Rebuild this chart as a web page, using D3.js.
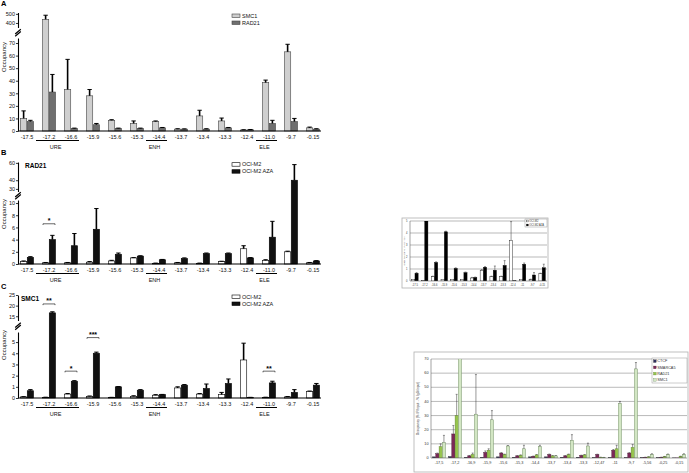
<!DOCTYPE html>
<html>
<head>
<meta charset="utf-8">
<script src="https://cdn.jsdelivr.net/npm/d3@7"></script>
<style>
  body { margin: 0; background: #fff; }
  svg { display: block; font-family: "Liberation Sans", Arial, sans-serif; }
</style>
</head>
<body>
<svg id="fig" width="689" height="473"></svg>
<script>
// ---- data: panels A-C (positions relative to TSS, kb)
const catsMain = ['-17.5', '-17.2', '-16.6', '-15.9', '-15.6', '-15.3', '-14.4', '-13.7', '-13.4', '-13.3', '-12.4', '-11.0', '-9.7', '-0.15']
const regions = [
  { name: 'URE', from: '-17.2', to: '-16.6' },
  { name: 'ENH', from: '-14.4', to: '-14.4' },
  { name: 'ELE', from: '-11.0', to: '-11.0' },
]

// A: SMC1 / RAD21
const aSmc1 = [10, 440, 33, 28, 8.5, 6, 7.5, 1.5, 12, 8, 0.8, 38.5, 63, 2.5]
const aSmc1Err = [6, 45, 24, 5, 0.5, 2, 0.5, 0.3, 4.5, 2.3, 0.2, 2, 6, 0.6]
const aRad21 = [7.5, 31, 2, 5, 2, 2, 2.5, 1.5, 1.5, 2.5, 1, 6, 7.5, 1.5]
const aRad21Err = [1, 14, 0.3, 1, 0.3, 0.3, 0.3, 0.2, 0.3, 0.3, 0.2, 2.5, 2.5, 0.3]

// B: RAD21 in OCI-M2 / OCI-M2 AZA
const bM2 = [0.4, 0.2, 0.2, 0.3, 0.5, 1.0, 0.1, 0.2, 0.1, 0.4, 2.5, 0.6, 2.0, 0.2]
const bM2Err = [0.1, 0.05, 0.05, 0.1, 0.1, 0.05, 0.05, 0.05, 0.05, 0.05, 0.5, 0.1, 0.1, 0.05]
const bAza = [1.1, 4.0, 3.0, 5.7, 1.6, 1.3, 0.7, 0.9, 1.7, 1.7, 1.0, 4.4, 40, 0.5]
const bAzaErr = [0.1, 0.7, 2.0, 3.4, 0.2, 0.05, 0.05, 0.1, 0.1, 0.1, 0.05, 2.6, 18, 0.05]

// C: SMC1 in OCI-M2 / OCI-M2 AZA
const cM2 = [0.1, 0.05, 0.35, 0.15, 0.05, 0.15, 0.25, 0.9, 0.35, 0.3, 3.4, 0.05, 0.1, 0.6]
const cM2Err = [0.02, 0.02, 0.05, 0.03, 0.01, 0.05, 0.05, 0.1, 0.05, 0.2, 1.5, 0.02, 0.03, 0.02]
const cAza = [0.65, 16.6, 1.5, 4.0, 1.0, 0.7, 0.3, 1.15, 0.85, 1.3, 0.05, 1.35, 0.5, 1.15]
const cAzaErr = [0.1, 0.5, 0.05, 0.1, 0.02, 0.05, 0.02, 0.05, 0.4, 0.4, 0.01, 0.15, 0.25, 0.15]

const bSig = [{ cat: '-17.2', level: 6.6, text: '*' }]
const cSig = [
  { cat: '-17.2', level: 20.8, text: '**' },
  { cat: '-16.6', level: 2.4, text: '*' },
  { cat: '-15.9', level: 5.4, text: '***' },
  { cat: '-11.0', level: 2.4, text: '**' },
]

// ---- data: small chart, top right
const trCats = ['-17.5', '-17.2', '-16.6', '-15.9', '-15.6', '-15.3', '-14.4', '-13.7', '-13.4', '-13.3', '-12.4', '-11', '-9.7', '-0.15']
const trWhite = [0.1, 0.05, 0.35, 0.15, 0.15, 0.1, 0.25, 0.9, 0.35, 0.35, 3.4, 0.1, 0.1, 0.6]
const trWhiteErr = [0, 0, 0.05, 0, 0, 0, 0.05, 0.05, 0.05, 0.05, 1.55, 0, 0.05, 0.05]
const trBlack = [0.65, 5, 1.55, 4.1, 1.05, 0.7, 0.3, 1.15, 0.9, 1.3, 0.02, 1.4, 0.5, 1.1]
const trBlackErr = [0.05, 0, 0.05, 0.05, 0.05, 0.05, 0.03, 0.05, 0.35, 0.4, 0, 0.1, 0.2, 0.3]
const trTicks = [0, 1, 2, 3, 4, 5]

// ---- data: four-factor chart, bottom right
const brCats = ['-17,5', '-17,2', '-16,9', '-15,9', '-15,6', '-15,3', '-14,4', '-13,7', '-13,4', '-13,3', '-12,47', '-11', '-9,7', '-5,56', '-0,25', '-0,15']
const brCtcf = [0.8, 1, 0.5, 0.5, 0.8, 0.5, 0.8, 0.8, 0.5, 0.5, 0.3, 0.3, 0.3, 0.3, 0.3, 0.1]
const brSmarca5 = [3, 17, 1.5, 4, 3.5, 1.5, 1.2, 2.5, 1.5, 1.8, 2.5, 5.5, 3.5, 0.5, 0.5, 0.1]
const brSmarca5Err = [0.5, 6, 0.3, 1, 0.3, 0.2, 0.2, 0.3, 0.2, 0.2, 0.2, 0.5, 0.3, 0.1, 0.1, 0]
const brRad21 = [8, 30, 2.5, 5.5, 2.5, 2, 2.2, 1.5, 2.5, 2.2, 0.5, 6.5, 7.5, 0.8, 1, 1.2]
const brRad21Err = [2, 15, 1, 1, 0.2, 0.2, 0.2, 0.2, 0.3, 0.2, 0.1, 2.5, 2, 0.1, 0.1, 0.1]
const brSmc1 = [11, 440, 31, 27, 8.5, 6.5, 8, 1.5, 12.5, 8.5, 0.3, 38.5, 63, 2.5, 2.5, 2.5]
const brSmc1Err = [5, 45, 28, 6.5, 0.3, 2.5, 1, 0.2, 4, 2, 0.1, 1.5, 4.5, 0.5, 0.3, 0.5]
const brTicks = [0, 10, 20, 30, 40, 50, 60, 70]

const svg = d3.select('#fig')
const ink = '#111'

// GraphPad-style panel with a broken y axis
function brokenPanel (p) {
  const g = svg.append('g')
  const axisX = 18
  const x = d3.scaleBand().domain(catsMain).range([16, 324])
  const sub = d3.scaleBand().domain(d3.range(p.series.length)).range([-6.5, 6.5]).paddingInner(0.08)
  const y = d3.scaleLinear().domain(p.domain).range(p.range).clamp(true)
  const yLow = d3.scaleLinear().domain(p.domain.slice(0, 2)).range(p.range.slice(0, 2))
  const yUp = d3.scaleLinear().domain(p.domain.slice(2)).range(p.range.slice(2))
  const y0 = p.range[0]
  const cx = (c) => x(c) + x.bandwidth() / 2

  p.series.forEach((s, si) => {
    const bars = g.append('g')
    bars.selectAll('rect')
      .data(s.values)
      .join('rect')
      .attr('x', (d, i) => cx(catsMain[i]) + sub(si))
      .attr('y', (d) => y(d))
      .attr('width', sub.bandwidth())
      .attr('height', (d) => y0 - y(d))
      .attr('fill', s.fill)
      .attr('stroke', s.stroke)
      .attr('stroke-width', 0.6)

    const err = g.append('g').attr('stroke', '#000')
    s.values.forEach((v, i) => {
      const e = s.err[i]
      if (!e) return
      const mx = cx(catsMain[i]) + sub(si) + sub.bandwidth() / 2
      err.append('line')
        .attr('x1', mx).attr('x2', mx)
        .attr('y1', y(v)).attr('y2', y(v + e))
        .attr('stroke-width', 1.6)
      err.append('line')
        .attr('x1', mx - sub.bandwidth() * 0.35).attr('x2', mx + sub.bandwidth() * 0.35)
        .attr('y1', y(v + e)).attr('y2', y(v + e))
        .attr('stroke-width', 1)
    })
  })

  // y axis segments
  const styleAxis = (sel) => {
    sel.select('.domain').attr('stroke-width', 1.1)
    sel.selectAll('.tick line').attr('stroke-width', 0.8)
    sel.selectAll('.tick text').attr('font-size', 5.5).attr('fill', ink).attr('font-family', '"Liberation Sans", Arial, sans-serif')
  }
  const fmt = d3.format('d')
  g.append('g').attr('transform', `translate(${axisX},0)`)
    .call(d3.axisLeft(yLow).tickValues(p.lowTicks).tickFormat(fmt).tickSize(2).tickSizeOuter(0).tickPadding(1))
    .call(styleAxis)
  g.append('g').attr('transform', `translate(${axisX},0)`)
    .call(d3.axisLeft(yUp).tickValues(p.upTicks).tickFormat(fmt).tickSize(2).tickSizeOuter(0).tickPadding(1))
    .call(styleAxis)

  // break marks
  const by = (p.range[1] + p.range[2]) / 2
  ;[-1.1, 1.1].forEach((o) => {
    g.append('line')
      .attr('x1', axisX - 2.8).attr('y1', by + o + 2.4)
      .attr('x2', axisX + 2.8).attr('y2', by + o - 2.4)
      .attr('stroke', '#000').attr('stroke-width', 1.2)
  })

  // x axis
  g.append('line')
    .attr('x1', axisX).attr('x2', 321)
    .attr('y1', y0).attr('y2', y0)
    .attr('stroke', '#000').attr('stroke-width', 1.1)
  g.append('g').selectAll('text')
    .data(catsMain)
    .join('text')
    .attr('x', cx)
    .attr('y', y0 + 7.5)
    .attr('text-anchor', 'middle')
    .attr('font-size', 5.5)
    .attr('fill', ink)
    .text((d) => d)

  regions.forEach((r) => {
    const x1 = x(r.from) - 2
    const x2 = x(r.to) + x.bandwidth() - 3
    g.append('line')
      .attr('x1', x1).attr('x2', x2)
      .attr('y1', y0 + 9.5).attr('y2', y0 + 9.5)
      .attr('stroke', '#000').attr('stroke-width', 1)
    g.append('text')
      .attr('x', (x1 + x2) / 2 - 2)
      .attr('y', y0 + 17.5)
      .attr('text-anchor', 'middle')
      .attr('font-size', 5.5)
      .attr('fill', ink)
      .text(r.name)
  })

  // significance brackets
  ;(p.sig || []).forEach((s) => {
    const c = cx(s.cat)
    const yy = y(s.level)
    g.append('path')
      .attr('d', `M${c - 6},${yy + 1.2}V${yy}H${c + 6}V${yy + 1.2}`)
      .attr('fill', 'none').attr('stroke', '#000').attr('stroke-width', 0.6)
    g.append('text')
      .attr('x', c).attr('y', yy - 0.5)
      .attr('text-anchor', 'middle')
      .attr('font-size', 7).attr('font-weight', 'bold')
      .text(s.text)
  })

  // panel letter, title, y label
  g.append('text').attr('x', 1).attr('y', p.letterY)
    .attr('font-size', 7.5).attr('font-weight', 'bold').text(p.letter)
  if (p.title) {
    g.append('text').attr('x', p.titleX).attr('y', p.titleY)
      .attr('font-size', 6.5).attr('font-weight', 'bold').text(p.title)
  }
  g.append('text')
    .attr('transform', `translate(6,${p.labelY}) rotate(-90)`)
    .attr('text-anchor', 'middle')
    .attr('font-size', 6)
    .attr('fill', ink)
    .text('Occupancy')

  // legend
  p.series.forEach((s, si) => {
    const ly = p.legendY + si * 7
    g.append('rect').attr('x', 232).attr('y', ly).attr('width', 8).attr('height', 3.5)
      .attr('fill', s.fill).attr('stroke', s.stroke).attr('stroke-width', 0.6)
    g.append('text').attr('x', 242).attr('y', ly + 3.5)
      .attr('font-size', 5.5).attr('fill', ink).text(s.name)
  })
}

brokenPanel({
  letter: 'A', letterY: 6,
  domain: [0, 74, 350, 515], range: [131, 38, 27.5, 12.5],
  lowTicks: [0, 10, 20, 30, 40, 50, 60, 70], upTicks: [400, 500],
  labelY: 57, legendY: 14,
  series: [
    { name: 'SMC1', values: aSmc1, err: aSmc1Err, fill: '#cfcfcf', stroke: '#444' },
    { name: 'RAD21', values: aRad21, err: aRad21Err, fill: '#6f6f6f', stroke: '#444' },
  ],
})

brokenPanel({
  letter: 'B', letterY: 155, title: 'RAD21', titleX: 25, titleY: 168,
  domain: [0, 10.5, 27, 61], range: [264, 200, 191.5, 162],
  lowTicks: [0, 2, 4, 6, 8, 10], upTicks: [30, 40, 60],
  labelY: 214, legendY: 162.7, sig: bSig,
  series: [
    { name: 'OCI-M2', values: bM2, err: bM2Err, fill: '#fff', stroke: '#000' },
    { name: 'OCI-M2 AZA', values: bAza, err: bAzaErr, fill: '#111', stroke: '#000' },
  ],
})

brokenPanel({
  letter: 'C', letterY: 289, title: 'SMC1', titleX: 21, titleY: 301,
  domain: [0, 5.9, 13, 25], range: [398, 332, 320.5, 295],
  lowTicks: [0, 1, 2, 3, 4, 5], upTicks: [15, 20, 25],
  labelY: 345, legendY: 295, sig: cSig,
  series: [
    { name: 'OCI-M2', values: cM2, err: cM2Err, fill: '#fff', stroke: '#000' },
    { name: 'OCI-M2 AZA', values: cAza, err: cAzaErr, fill: '#111', stroke: '#000' },
  ],
})

// Excel-style chart with frame and horizontal gridlines
function excelChart (p) {
  const g = svg.append('g')
  g.append('rect')
    .attr('x', p.box[0]).attr('y', p.box[1])
    .attr('width', p.box[2]).attr('height', p.box[3])
    .attr('fill', '#fff').attr('stroke', '#b0b0b0').attr('stroke-width', 0.8)

  const x = d3.scaleBand().domain(p.cats).range(p.xRange)
  const y = d3.scaleLinear().domain([0, d3.max(p.ticks)]).range(p.yRange)
  const sub = d3.scaleBand().domain(d3.range(p.series.length))
    .range([-p.groupW / 2, p.groupW / 2]).paddingInner(0.05)

  g.append('g').selectAll('line')
    .data(p.ticks.slice(1))
    .join('line')
    .attr('x1', p.xRange[0]).attr('x2', p.xRange[1])
    .attr('y1', y).attr('y2', y)
    .attr('stroke', '#8c8c8c').attr('stroke-width', 0.6)

  const clipId = `clip-${p.id}`
  g.append('clipPath').attr('id', clipId)
    .append('rect')
    .attr('x', p.xRange[0]).attr('y', p.yRange[1])
    .attr('width', p.xRange[1] - p.xRange[0]).attr('height', p.yRange[0] - p.yRange[1])

  const plot = g.append('g').attr('clip-path', `url(#${clipId})`)
  p.series.forEach((s, si) => {
    const bx = (i) => x(p.cats[i]) + x.bandwidth() / 2 + sub(si)
    plot.append('g').selectAll('rect')
      .data(s.values)
      .join('rect')
      .attr('x', (d, i) => bx(i))
      .attr('y', (d) => y(d))
      .attr('width', sub.bandwidth())
      .attr('height', (d) => p.yRange[0] - y(d))
      .attr('fill', s.fill)
      .attr('stroke', s.stroke)
      .attr('stroke-width', 0.4)
    if (s.err) {
      const err = plot.append('g').attr('stroke', '#333').attr('stroke-width', 0.5)
      s.values.forEach((v, i) => {
        if (!s.err[i]) return
        const mx = bx(i) + sub.bandwidth() / 2
        err.append('line').attr('x1', mx).attr('x2', mx).attr('y1', y(v)).attr('y2', y(v + s.err[i]))
        err.append('line').attr('x1', mx - 1).attr('x2', mx + 1).attr('y1', y(v + s.err[i])).attr('y2', y(v + s.err[i]))
      })
    }
  })

  // axes
  g.append('line').attr('x1', p.xRange[0]).attr('x2', p.xRange[0])
    .attr('y1', p.yRange[0]).attr('y2', p.yRange[1])
    .attr('stroke', '#666').attr('stroke-width', 0.6)
  g.append('line').attr('x1', p.xRange[0]).attr('x2', p.xRange[1])
    .attr('y1', p.yRange[0]).attr('y2', p.yRange[0])
    .attr('stroke', '#666').attr('stroke-width', 0.6)

  g.append('g').selectAll('text')
    .data(p.ticks)
    .join('text')
    .attr('x', p.xRange[0] - 2.5)
    .attr('y', (d) => y(d) + 1.2)
    .attr('text-anchor', 'end')
    .attr('font-size', p.font)
    .attr('fill', '#333')
    .text((d) => d)

  g.append('g').selectAll('text')
    .data(p.cats)
    .join('text')
    .attr('x', (d) => x(d) + x.bandwidth() / 2)
    .attr('y', p.yRange[0] + p.font + 2)
    .attr('text-anchor', 'middle')
    .attr('font-size', p.font)
    .attr('fill', '#333')
    .text((d) => d)

  g.append('text')
    .attr('transform', `translate(${p.yLabelX},${(p.yRange[0] + p.yRange[1]) / 2}) rotate(-90)`)
    .attr('text-anchor', 'middle')
    .attr('font-size', p.font * 0.85)
    .attr('fill', '#333')
    .text(p.yLabel)

  // legend
  const [lx, ly, lw, lh] = p.legendBox
  g.append('rect').attr('x', lx).attr('y', ly).attr('width', lw).attr('height', lh)
    .attr('fill', '#fff').attr('stroke', '#999').attr('stroke-width', 0.5)
  p.series.forEach((s, si) => {
    const ey = ly + (si + 0.5) * lh / p.series.length
    g.append('rect').attr('x', lx + 1.5).attr('y', ey - p.font * 0.35)
      .attr('width', p.font * 0.7).attr('height', p.font * 0.7)
      .attr('fill', s.fill).attr('stroke', s.stroke).attr('stroke-width', 0.3)
    g.append('text').attr('x', lx + 2.5 + p.font * 0.7).attr('y', ey + p.font * 0.35)
      .attr('font-size', p.font).attr('fill', '#333').text(s.name)
  })
}

excelChart({
  id: 'tr', box: [402, 218, 146, 70],
  cats: trCats, ticks: trTicks,
  xRange: [410, 547], yRange: [281, 221], groupW: 6.5, font: 2.6,
  yLabelX: 404.5, yLabel: 'SMC1 occupancy (% of input)',
  legendBox: [525, 219, 22, 8],
  series: [
    { name: 'OCI-M2', values: trWhite, err: trWhiteErr, fill: '#fff', stroke: '#000' },
    { name: 'OCI-M2 AZA', values: trBlack, err: trBlackErr, fill: '#000', stroke: '#000' },
  ],
})

excelChart({
  id: 'br', box: [414, 352, 274, 120],
  cats: brCats, ticks: brTicks,
  xRange: [431, 687], yRange: [458, 359], groupW: 13, font: 3.8,
  yLabelX: 418.5, yLabel: 'Occupancy (% IP/input - % IgG/input)',
  legendBox: [652, 358, 35, 25],
  series: [
    { name: 'CTCF', values: brCtcf, fill: '#2f2f5f', stroke: '#222' },
    { name: 'SMARCA5', values: brSmarca5, err: brSmarca5Err, fill: '#7b2857', stroke: '#4a1535' },
    { name: 'RAD21', values: brRad21, err: brRad21Err, fill: '#96c44e', stroke: '#5c7f2a' },
    { name: 'SMC1', values: brSmc1, err: brSmc1Err, fill: '#d2e6c3', stroke: '#5f7f50' },
  ],
})
</script>
</body>
</html>
